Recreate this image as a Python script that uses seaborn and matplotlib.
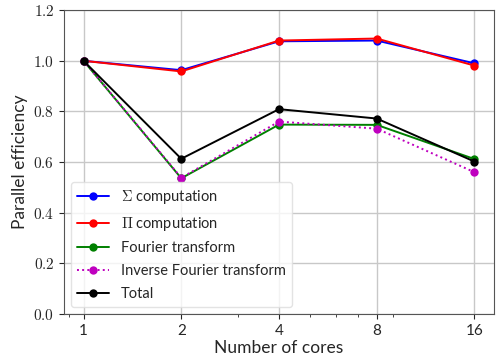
import matplotlib
matplotlib.use("Agg")
import matplotlib.pyplot as plt
import matplotlib.ticker as mticker
import seaborn as sns
import pandas as pd

cores = [1, 2, 4, 8, 16]
sigma_comp = [1.0, 0.963, 1.077, 1.080, 0.990]
pi_comp = [1.0, 0.958, 1.080, 1.088, 0.981]
fourier = [1.0, 0.536, 0.748, 0.747, 0.612]
inv_fourier = [1.0, 0.538, 0.760, 0.732, 0.560]
total = [1.0, 0.613, 0.809, 0.772, 0.602]

labels = [r"$\Sigma$ computation", r"$\Pi$ computation", "Fourier transform",
          "Inverse Fourier transform", "Total"]
colors = ["#0000ff", "#ff0000", "#008000", "#bf00bf", "#000000"]
styles = ["-", "-", "-", ":", "-"]
series = [sigma_comp, pi_comp, fourier, inv_fourier, total]

sns.set_style("ticks")
plt.rcParams["mathtext.fontset"] = "cm"
plt.rcParams["font.family"] = ["Lato", "DejaVu Sans"]

fig = plt.figure(figsize=(5, 3.63), dpi=100)
ax = fig.add_axes([0.128, 0.135, 0.86, 0.837])

for vals, lab, c, ls in zip(series, labels, colors, styles):
    df = pd.DataFrame({"cores": cores, "eff": vals})
    sns.lineplot(data=df, x="cores", y="eff", ax=ax, color=c, linestyle=ls,
                 marker="o", markersize=6, markeredgewidth=0, linewidth=1.4,
                 label=lab)

ax.set_xscale("log")
ax.set_xticks(cores)
ax.xaxis.set_major_formatter(mticker.FixedFormatter([str(c) for c in cores]))
ax.set_ylim(0, 1.2)
ax.set_yticks([0.0, 0.2, 0.4, 0.6, 0.8, 1.0, 1.2])
ax.yaxis.set_major_formatter(mticker.FuncFormatter(lambda v, p: r"$%.1f$" % v))
ax.tick_params(axis="y", labelsize=11)
ax.tick_params(axis="x", labelsize=11)
ax.tick_params(which="minor", length=2.5)
ax.grid(True, which="major", color="#c8c8c8", linewidth=1)
for s in ax.spines.values():
    s.set_color("#555555")
    s.set_visible(True)
ax.set_xlabel("Number of cores", fontsize=12.5, labelpad=2)
ax.set_ylabel("Parallel efficiency", fontsize=12.5)
leg = ax.legend(loc="lower left", fontsize=10.5, frameon=True, borderaxespad=0.5,
                labelspacing=0.6, handlelength=2.2)
leg.get_frame().set_edgecolor("#dddddd")

fig.savefig("out.png", dpi=100)
